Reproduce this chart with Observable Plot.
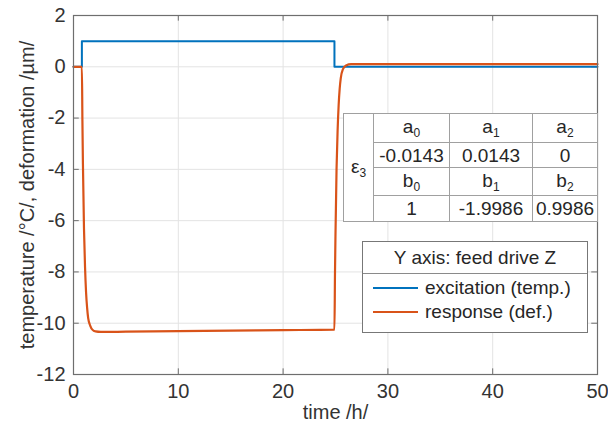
<!DOCTYPE html>
<html><head><meta charset="utf-8">
<script src="https://cdn.jsdelivr.net/npm/d3@7"></script>
<script src="https://cdn.jsdelivr.net/npm/@observablehq/plot@0.6"></script>
<style>
body{margin:0;background:#fff;}
#wrap{position:relative;width:608px;height:428px;font-family:"Liberation Sans",Arial,sans-serif;color:#262626;}
#coef{position:absolute;left:343px;top:113px;border-collapse:collapse;background:#fff;font-size:19px;border:1.5px solid #6a6a6a;}
#coef td{border:1px solid #a0a0a0;text-align:center;padding:0;line-height:1;}
#coef sub{font-size:12px;vertical-align:-4px;}
#legend{position:absolute;left:362px;top:241px;width:224px;height:90px;border:1px solid #777;background:#fff;font-size:19px;}
#legend .title{height:31px;line-height:31px;text-align:center;border-bottom:1.5px solid #8a8a8a;}
#legend .item{position:absolute;left:10px;height:22px;line-height:22px;}
#legend .swatch{display:inline-block;width:45px;height:2px;vertical-align:middle;margin-right:7px;position:relative;top:-1px;}
</style></head><body><div id="wrap"></div>
<script>
// excitation (temperature step)
const excTime  = [0, 0.8, 24.9, 50];
const excValue = [0, 1, 0, 0];
// response (deformation)
const resTime  = [0, 0.8, 0.85, 0.9, 1.0, 1.1, 1.2, 1.3, 1.4, 1.6, 1.8, 2.1, 2.6, 5, 10, 15, 20, 24.9,
                  24.95, 25.0, 25.1, 25.2, 25.3, 25.4, 25.5, 25.7, 26.0, 26.5, 30, 40, 50];
const resValue = [0, 0, -2.1, -3.8, -6.3, -7.8, -8.8, -9.4, -9.8, -10.1, -10.25, -10.32, -10.34, -10.33, -10.31, -10.29, -10.27, -10.25,
                  -8.1, -6.5, -4.0, -2.5, -1.5, -0.85, -0.45, -0.1, 0.05, 0.1, 0.1, 0.1, 0.1];
const xTicks = [0, 10, 20, 30, 40, 50];
const yTicks = [-12, -10, -8, -6, -4, -2, 0, 2];
const seriesNames  = ["excitation (temp.)", "response (def.)"];
const seriesColors = ["#0072BD", "#D95319"];
const legendTitle = "Y axis: feed drive Z";
const tableLabel = "ε";
const tableLabelSub = "3";
const coefNamesA = ["a", "a", "a"];
const coefNamesB = ["b", "b", "b"];
const coefSubs = ["0", "1", "2"];
const coefA = ["-0.0143", "0.0143", "0"];
const coefB = ["1", "-1.9986", "0.9986"];

const exc = excTime.map((t, i) => ({t, v: excValue[i]}));
const res = resTime.map((t, i) => ({t, v: resValue[i]}));

const axisColor = "#6e6e6e";
const fmt = d => String(d);
const chart = Plot.plot({
  width: 608, height: 428,
  marginLeft: 73, marginRight: 11, marginTop: 15, marginBottom: 54,
  style: {fontFamily: "Liberation Sans, Arial, sans-serif", fontSize: "20px", color: "#333", background: "#fff"},
  x: {domain: [0, 50], ticks: xTicks},
  y: {domain: [-12, 2], ticks: yTicks},
  marks: [
    Plot.gridX(xTicks, {stroke: "#e3e3e3", strokeOpacity: 1}),
    Plot.gridY(yTicks, {stroke: "#e3e3e3", strokeOpacity: 1}),
    Plot.axisX(xTicks, {tickSize: 0, tickPadding: 9, tickFormat: fmt, label: "time /h/", labelAnchor: "center", labelArrow: "none", labelOffset: 44, fontSize: 20}),
    Plot.axisY(yTicks, {tickSize: 0, tickPadding: 8, tickFormat: fmt, label: "temperature /°C/, deformation /µm/", labelAnchor: "center", labelArrow: "none", labelOffset: 54, fontSize: 20}),
    Plot.ruleY(yTicks, {x1: 0, x2: 0.55, stroke: axisColor}),
    Plot.ruleY(yTicks, {x1: 49.45, x2: 50, stroke: axisColor}),
    Plot.ruleX(xTicks, {y1: -12, y2: -11.78, stroke: axisColor}),
    Plot.ruleX(xTicks, {y1: 2, y2: 1.78, stroke: axisColor}),
    Plot.line(exc, {x: "t", y: "v", curve: "step-after", stroke: seriesColors[0], strokeWidth: 2}),
    Plot.line(res, {x: "t", y: "v", curve: "monotone-x", stroke: seriesColors[1], strokeWidth: 2.2}),
    Plot.frame({stroke: axisColor, strokeWidth: 1.2})
  ]
});
const wrap = document.getElementById("wrap");
wrap.appendChild(chart);

// coefficient table
const tbl = document.createElement("table");
tbl.id = "coef";
const colW = [29, 75, 82, 64];
const rowH = [29, 25, 28, 26];
let html = "";
const rows = [
  coefNamesA.map((n, i) => `${n}<sub>${coefSubs[i]}</sub>`),
  coefA,
  coefNamesB.map((n, i) => `${n}<sub>${coefSubs[i]}</sub>`),
  coefB
];
rows.forEach((r, ri) => {
  html += `<tr style="height:${rowH[ri]}px">`;
  if (ri === 0) html += `<td rowspan="4" style="width:${colW[0]}px">${tableLabel}<sub>${tableLabelSub}</sub></td>`;
  r.forEach((c, ci) => { html += `<td style="width:${colW[ci+1]}px">${c}</td>`; });
  html += "</tr>";
});
tbl.innerHTML = html;
wrap.appendChild(tbl);

// legend
const lg = document.createElement("div");
lg.id = "legend";
let lh = `<div class="title">${legendTitle}</div>`;
seriesNames.forEach((n, i) => {
  lh += `<div class="item" style="top:${35 + i * 24}px"><span class="swatch" style="background:${seriesColors[i]}"></span>${n}</div>`;
});
lg.innerHTML = lh;
wrap.appendChild(lg);
</script></body></html>
